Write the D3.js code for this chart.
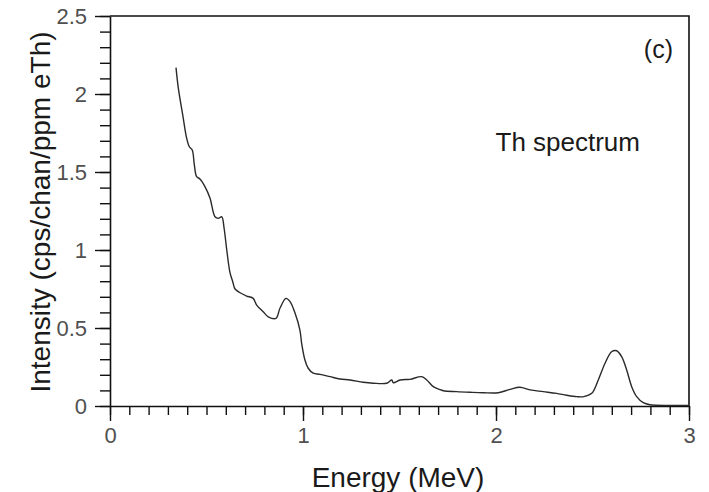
<!DOCTYPE html>
<html>
<head>
<meta charset="utf-8">
<script src="https://cdn.jsdelivr.net/npm/d3@7"></script>
<style>
  body { margin: 0; background: #fff; }
  svg { display: block; font-family: "Liberation Sans", Arial, sans-serif; }
</style>
</head>
<body>
<div id="chart"></div>
<script>
// Th spectrum: energy (MeV) and intensity (cps/chan/ppm eTh)
const energy = [
  0.342, 0.354, 0.377, 0.397, 0.411, 0.426, 0.437, 0.449, 0.466, 0.492,
  0.518, 0.544, 0.561, 0.579, 0.591, 0.605, 0.622, 0.636, 0.648, 0.674,
  0.708, 0.742, 0.760, 0.794, 0.820, 0.860, 0.881, 0.912, 0.933, 0.959,
  0.984, 0.993, 1.010, 1.027, 1.053, 1.088, 1.140, 1.192, 1.244, 1.312,
  1.364, 1.434, 1.460, 1.468, 1.503, 1.554, 1.615, 1.641, 1.675, 1.706,
  1.727, 1.796, 1.865, 1.934, 2.012, 2.073, 2.124, 2.176, 2.245, 2.314,
  2.366, 2.418, 2.455, 2.496, 2.530, 2.565, 2.599, 2.625, 2.651, 2.677,
  2.703, 2.729, 2.763, 2.798, 2.902, 2.996
];
const intensity = [
  2.169, 2.038, 1.865, 1.718, 1.662, 1.641, 1.545, 1.470, 1.455, 1.406,
  1.333, 1.213, 1.203, 1.213, 1.141, 1.000, 0.853, 0.797, 0.750, 0.726,
  0.705, 0.690, 0.647, 0.604, 0.572, 0.562, 0.628, 0.690, 0.669, 0.594,
  0.487, 0.402, 0.295, 0.242, 0.210, 0.203, 0.188, 0.173, 0.167, 0.152,
  0.146, 0.146, 0.167, 0.149, 0.167, 0.171, 0.188, 0.167, 0.124, 0.107,
  0.098, 0.092, 0.088, 0.085, 0.085, 0.107, 0.120, 0.103, 0.092, 0.081,
  0.069, 0.060, 0.060, 0.081, 0.167, 0.274, 0.348, 0.354, 0.316, 0.231,
  0.124, 0.060, 0.021, 0.008, 0.004, 0.004
];
const xTicks = [0, 1, 2, 3];
const yTicks = [0, 0.5, 1, 1.5, 2, 2.5];

const width = 709;
const height = 492;
const margin = { top: 16, right: 20, bottom: 86, left: 110 };

const svg = d3.select("#chart")
  .append("svg")
  .attr("width", width)
  .attr("height", height);

const x = d3.scaleLinear()
  .domain([0, 3])
  .range([margin.left, width - margin.right]);

const y = d3.scaleLinear()
  .domain([0, 2.5])
  .range([height - margin.bottom, margin.top]);

const minorX = d3.range(0, 3.001, 0.1).map(d => +d.toFixed(1));
const minorY = d3.range(0, 2.501, 0.1).map(d => +d.toFixed(1));

// minor ticks
svg.append("g")
  .attr("transform", `translate(0,${y(0)})`)
  .call(d3.axisBottom(x).tickValues(minorX).tickSize(9).tickFormat(""))
  .call(g => g.select(".domain").remove());

svg.append("g")
  .attr("transform", `translate(${x(0)},0)`)
  .call(d3.axisLeft(y).tickValues(minorY).tickSize(10).tickFormat(""))
  .call(g => g.select(".domain").remove());

// major ticks + labels
svg.append("g")
  .attr("transform", `translate(0,${y(0)})`)
  .call(d3.axisBottom(x).tickValues(xTicks).tickSize(15).tickSizeOuter(0).tickPadding(6)
    .tickFormat(d3.format("d")));

svg.append("g")
  .attr("transform", `translate(${x(0)},0)`)
  .call(d3.axisLeft(y).tickValues(yTicks).tickSize(15).tickSizeOuter(0).tickPadding(8)
    .tickFormat(d => String(d)));

svg.selectAll(".tick line").attr("stroke", "#111").attr("stroke-width", 1.4);
svg.selectAll(".domain").attr("stroke", "#111").attr("stroke-width", 1.6);
svg.selectAll(".tick text")
  .attr("font-size", 22)
  .attr("fill", "#505050")
  .attr("font-family", "Liberation Sans, Arial, sans-serif");

// frame top and right
svg.append("path")
  .attr("d", `M${x(0)},${y(2.5)}H${x(3)}V${y(0)}`)
  .attr("fill", "none")
  .attr("stroke", "#111")
  .attr("stroke-width", 1.6);

// spectrum line
const line = d3.line()
  .x((d, i) => x(energy[i]))
  .y(d => y(d))
  .curve(d3.curveCatmullRom.alpha(0.5));

svg.append("path")
  .datum(intensity)
  .attr("d", line)
  .attr("fill", "none")
  .attr("stroke", "#2a2a2a")
  .attr("stroke-width", 1.4);

// axis titles
svg.append("text")
  .attr("x", 398)
  .attr("y", 487)
  .attr("text-anchor", "middle")
  .attr("font-size", 28)
  .attr("fill", "#1a1a1a")
  .text("Energy (MeV)");

svg.append("text")
  .attr("transform", "translate(50,212) rotate(-90)")
  .attr("text-anchor", "middle")
  .attr("font-size", 28)
  .attr("fill", "#1a1a1a")
  .text("Intensity (cps/chan/ppm eTh)");

// annotations
svg.append("text")
  .attr("x", 673)
  .attr("y", 58)
  .attr("text-anchor", "end")
  .attr("font-size", 25)
  .attr("fill", "#1a1a1a")
  .text("(c)");

svg.append("text")
  .attr("x", 640)
  .attr("y", 151)
  .attr("text-anchor", "end")
  .attr("font-size", 26)
  .attr("fill", "#1a1a1a")
  .text("Th spectrum");
</script>
</body>
</html>
